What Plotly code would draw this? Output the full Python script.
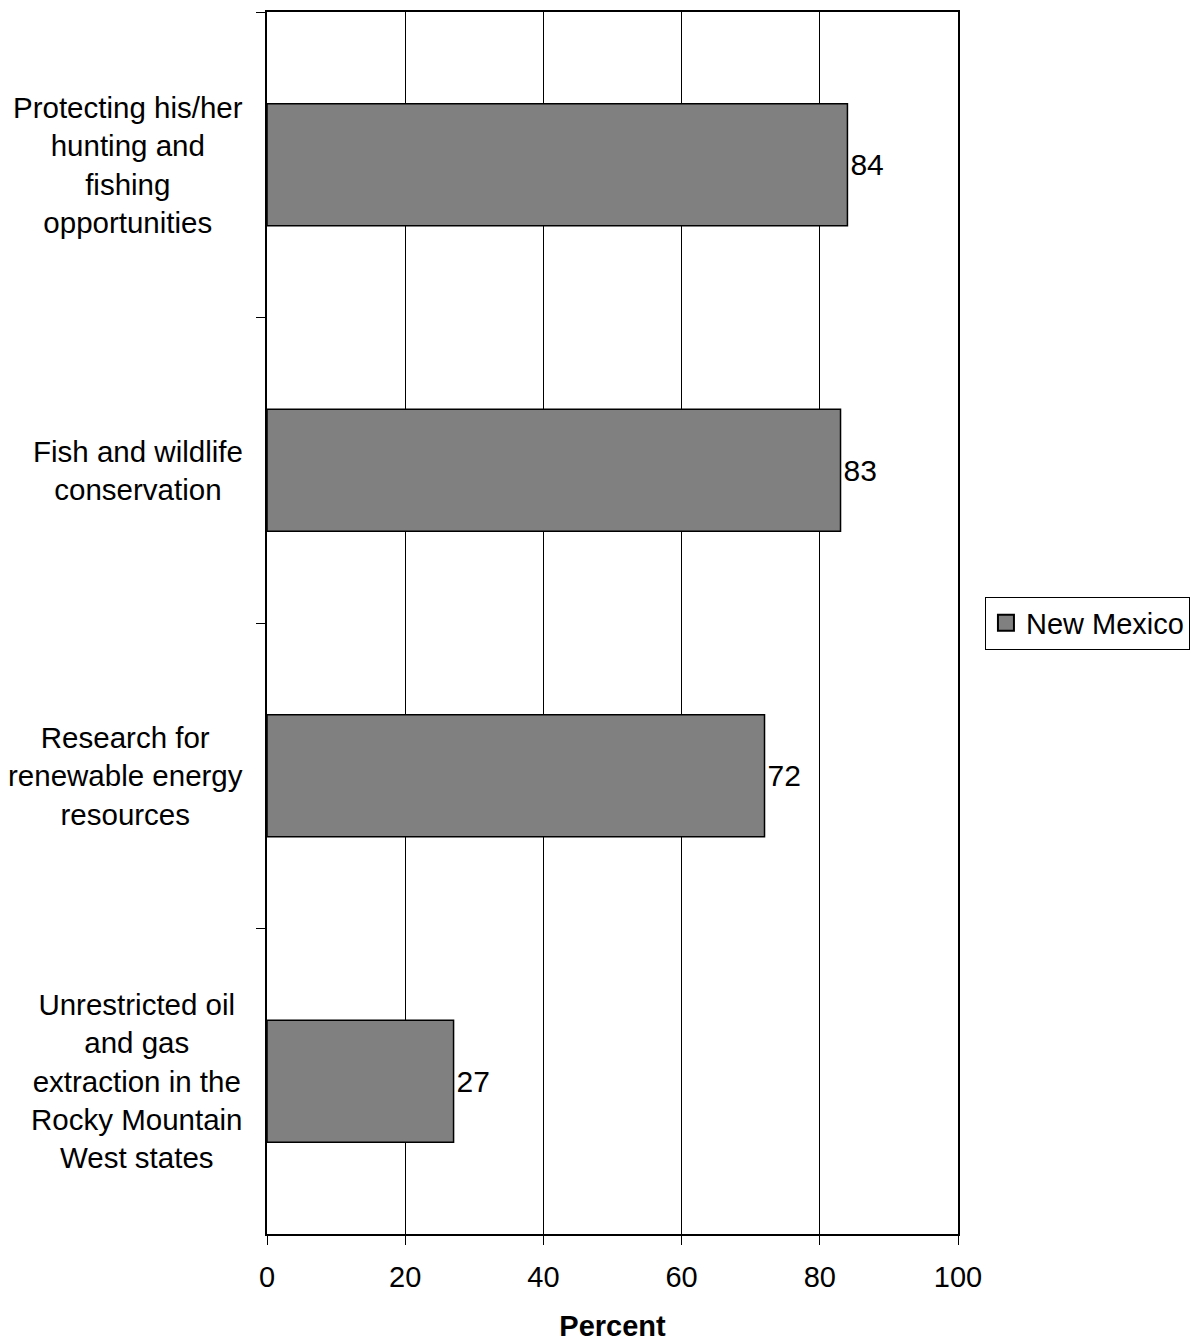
import plotly.graph_objects as go

categories = [
    "Protecting his/her<br>hunting and<br>fishing<br>opportunities",
    "Fish and wildlife<br>conservation",
    "Research for<br>renewable energy<br>resources",
    "Unrestricted oil<br>and gas<br>extraction in the<br>Rocky Mountain<br>West states",
]
values = [84, 83, 72, 27]
series_name = "New Mexico"
x_ticks = [0, 20, 40, 60, 80, 100]

FONT = "Liberation Sans, Arial, sans-serif"
FS = 29
FS_CAT = 29.5
BAR_COLOR = "#808080"

fig = go.Figure()
fig.add_trace(go.Bar(
    y=categories, x=values, orientation="h", name=series_name,
    marker=dict(color=BAR_COLOR, line=dict(color="black", width=1.5)),
    width=0.4,
    text=[str(v) for v in values], textposition="outside",
    textfont=dict(family=FONT, size=FS + 1, color="black"),
    cliponaxis=False, showlegend=False,
))
# legend entry with a larger square swatch
fig.add_trace(go.Scatter(
    x=[None], y=[None], mode="markers", name=series_name,
    marker=dict(symbol="square", size=19, color=BAR_COLOR,
                line=dict(color="black", width=2)),
    showlegend=True,
))

for c in categories:
    fig.add_annotation(
        x=0, xref="paper", y=c, yref="y", text=c, showarrow=False,
        xanchor="right", yanchor="middle", align="center", xshift=-22,
        font=dict(family=FONT, size=FS_CAT, color="black"),
    )

fig.update_layout(
    width=1190, height=1334,
    margin=dict(l=259, r=240, t=2, b=108),
    plot_bgcolor="white", paper_bgcolor="white",
    font=dict(family=FONT, size=FS, color="black"),
    legend=dict(
        x=1.039, xanchor="left", y=0.5, yanchor="middle",
        bordercolor="black", borderwidth=1, bgcolor="white",
        font=dict(family=FONT, size=FS, color="black"),
        itemsizing="trace", itemwidth=30, tracegroupgap=0,
    ),
    xaxis=dict(
        range=[0, 100], tickvals=x_ticks, ticks="outside", ticklen=9,
        tickcolor="black", tickwidth=1, ticklabelstandoff=7,
        showgrid=True, gridcolor="black", gridwidth=1,
        showline=True, linecolor="black", linewidth=2, mirror=True,
        zeroline=False,
        tickfont=dict(family=FONT, size=FS, color="black"),
        title=dict(text="<b>Percent</b>", font=dict(family=FONT, size=FS, color="black"), standoff=25),
    ),
    yaxis=dict(
        type="category", categoryorder="array", categoryarray=categories,
        autorange="reversed", tickson="boundaries", ticks="outside",
        ticklen=9, tickcolor="black", tickwidth=1,
        showticklabels=False, showgrid=False,
        showline=True, linecolor="black", linewidth=2, mirror=True,
    ),
)

fig.write_html("out.html")
